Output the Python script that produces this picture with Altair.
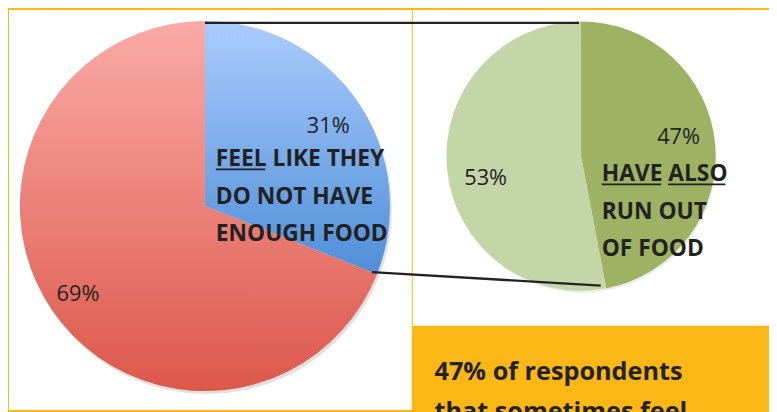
import math
import altair as alt
import pandas as pd

# ---- data ----
left_cats = ["feel not enough food", "other"]
left_vals = [31, 69]
right_cats = ["also run out of food", "not run out"]
right_vals = [47, 53]

left_text = ["FEEL LIKE THEY", "DO NOT HAVE", "ENOUGH FOOD"]
right_text = ["HAVE ALSO", "RUN OUT", "OF FOOD"]
bottom_text = ["47% of respondents", "that sometimes feel"]

ORANGE = "#FBB715"
INK = "#222222"
FONT = "Open Sans"

W, H = 769, 404
# pie geometry (px)
LCX, LCY, LR = 199, 198, 187
RCX, RCY, RR = 579, 147.5, 136


def pie_df(cats, vals):
    df = pd.DataFrame({"cat": cats, "value": vals})
    df["end"] = df["value"].cumsum()
    df["start"] = df["end"] - df["value"]
    return df


ldf = pie_df(left_cats, left_vals)
rdf = pie_df(right_cats, right_vals)

one = alt.Data(values=[{}])
theta_scale = alt.Scale(domain=[0, 100], range=[0, 2 * math.pi])


def grad(c0, c1):
    return alt.LinearGradient(
        gradient="linear", x1=0, y1=0, x2=0, y2=1,
        stops=[alt.GradientStop(color=c0, offset=0), alt.GradientStop(color=c1, offset=1)],
    )


def slice_layer(df, cat, cx, cy, r, fill):
    return (
        alt.Chart(df)
        .transform_filter(alt.datum.cat == cat)
        .mark_arc(outerRadius=r, fill=fill, stroke=None)
        .encode(
            theta=alt.Theta("start:Q", scale=theta_scale),
            theta2="end:Q",
            x=alt.value(cx),
            y=alt.value(cy),
        )
    )


def shadow(cx, cy, r, op):
    return alt.Chart(one).mark_arc(outerRadius=r, fill="#000000", opacity=op).encode(
        theta=alt.value(0), theta2=alt.value(2 * math.pi), x=alt.value(cx), y=alt.value(cy)
    )


def rect(x, x2, y, y2, color):
    return alt.Chart(one).mark_rect(color=color).encode(
        x=alt.value(x), x2=alt.value(x2), y=alt.value(y), y2=alt.value(y2)
    )


def rule(x, y, x2, y2, w=2, color=INK):
    return alt.Chart(one).mark_rule(color=color, strokeWidth=w).encode(
        x=alt.value(x), y=alt.value(y), x2=alt.value(x2), y2=alt.value(y2)
    )


def text(lines, x, y, size, bold=False, lh=37.7):
    return alt.Chart(one).mark_text(
        text="\n".join(lines) if isinstance(lines, list) else lines,
        lineBreak="\n", lineHeight=lh, align="left", baseline="alphabetic",
        font=FONT, fontSize=size, fontWeight="bold" if bold else "normal", color=INK,
    ).encode(x=alt.value(x), y=alt.value(y))


def edge(cx, cy, r, frac):
    a = 2 * math.pi * frac
    return cx + r * math.sin(a), cy - r * math.cos(a)


# connector endpoints from pie geometry
l_top = edge(LCX, LCY, LR * 0.99, 0)
r_top = edge(RCX, RCY, RR * 0.99, 0)
l_end = edge(LCX, LCY, LR * 0.97, left_vals[0] / 100)
r_end = edge(RCX, RCY, RR * 0.98, right_vals[0] / 100)

layers = [
    rect(1, 408, 0, H, "white"),
    rect(409, W, 0, 319, "white"),
    shadow(LCX + 2, LCY + 3, LR, 0.12),
    shadow(RCX + 1, RCY + 2, RR, 0.08),
    slice_layer(ldf, left_cats[0], LCX, LCY, LR, grad("#AACCFC", "#4F8ED8")),
    slice_layer(ldf, left_cats[1], LCX, LCY, LR, grad("#FAAAA6", "#DC584B")),
    slice_layer(rdf, right_cats[0], RCX, RCY, RR, "#9DB262"),
    slice_layer(rdf, right_cats[1], RCX, RCY, RR, "#C4D6A7"),
    rule(l_top[0], l_top[1], r_top[0] - 2, r_top[1], w=2.4),
    rule(l_end[0], l_end[1], r_end[0] - 5, r_end[1], w=2.4),
    text(f"{left_vals[0]}%", 302, 124, 22),
    text(f"{left_vals[1]}%", 49, 294, 22),
    text(f"{right_vals[0]}%", 656, 135, 22),
    text(f"{right_vals[1]}%", 461, 177, 22),
    text(left_text, 210, 158, 23, bold=True),
    text(right_text, 600, 173, 23, bold=True),
    text(bottom_text, 431, 374, 25.5, bold=True, lh=40),
    rule(210, 161, 260, 161, w=1.8),
    rule(600, 176, 660, 176, w=1.8),
    rule(667, 176, 725, 176, w=1.8),
]

chart = (
    alt.layer(*layers)
    .properties(width=W, height=H, background=ORANGE, padding=0,
                autosize=alt.AutoSizeParams(type="none"))
    .configure_view(strokeWidth=0)
)

chart.save("out.html", embed_options={"renderer": "svg", "actions": False})
